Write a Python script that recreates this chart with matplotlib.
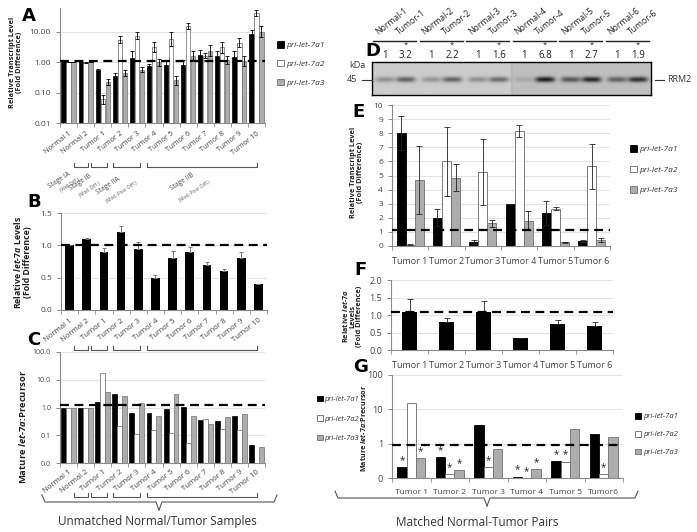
import numpy as np
import matplotlib.pyplot as plt
from matplotlib.patches import Patch
from matplotlib.lines import Line2D
from matplotlib.transforms import Affine2D, blended_transform_factory
from matplotlib.ticker import NullLocator, FixedLocator

W, H = 697, 532

# ---------------- data ----------------
series = ['pri-let-7a1', 'pri-let-7a2', 'pri-let-7a3']
unmatched = ['Normal 1', 'Normal 2', 'Tumor 1', 'Tumor 2', 'Tumor 3', 'Tumor 4',
             'Tumor 5', 'Tumor 6', 'Tumor 7', 'Tumor 8', 'Tumor 9', 'Tumor 10']

# A: relative transcript level (log), error given as fold factor
a_7a1 = [1.0, 1.0, 0.56, 0.35, 1.4, 0.72, 0.82, 0.82, 1.78, 1.65, 1.5, 8.4]
a_7a2 = [1.0, 0.97, 0.06, 5.5, 7.4, 3.1, 5.8, 15.3, 1.65, 3.1, 4.4, 42.5]
a_7a3 = [1.0, 1.0, 0.22, 0.44, 0.56, 1.0, 0.25, 1.65, 2.4, 1.2, 1.1, 10.0]
a_f1 = [1.02, 1.02, 1.1, 1.3, 1.7, 1.2, 1.4, 1.4, 1.45, 1.45, 1.5, 1.4]
a_f2 = [1.02, 1.02, 1.4, 1.3, 1.3, 1.45, 1.7, 1.25, 1.25, 1.5, 1.45, 1.25]
a_f3 = [1.02, 1.02, 1.25, 1.25, 1.2, 1.3, 1.4, 1.45, 1.5, 1.35, 1.45, 1.5]

# B: relative let-7a levels
b_vals = [1.0, 1.1, 0.9, 1.2, 0.95, 0.5, 0.8, 0.9, 0.7, 0.6, 0.8, 0.4]
b_err = [0.0, 0.02, 0.06, 0.1, 0.1, 0.04, 0.11, 0.08, 0.05, 0.04, 0.1, 0.0]

# C: mature let-7a : precursor (log)
c_7a1 = [1.0, 1.0, 1.55, 3.1, 0.62, 0.66, 0.92, 1.05, 0.35, 0.34, 0.49, 0.044]
c_7a2 = [1.0, 1.0, 17.0, 0.21, 0.115, 0.15, 0.125, 0.052, 0.37, 0.17, 0.16, 0.01]
c_7a3 = [0.97, 0.95, 3.7, 2.6, 1.5, 0.49, 3.0, 0.49, 0.26, 0.47, 0.6, 0.038]

stage_names = ['Stage IA', 'Stage IB', 'Stage IIA', 'Stage IIB']
stage_diff = ['(Well Diff.)', '(Mod. Diff.)', '(Mod.-Poor Diff.)', '(Mod.-Poor Diff.)']

# D: western blot
blot_lanes = ['Normal-1', 'Tumor-1', 'Normal-2', 'Tumor-2', 'Normal-3', 'Tumor-3',
              'Normal-4', 'Tumor-4', 'Normal-5', 'Tumor-5', 'Normal-6', 'Tumor-6']
blot_ratio = ['1', '3.2', '1', '2.2', '1', '1.6', '1', '6.8', '1', '2.7', '1', '1.9']
band_density = [0.3, 0.55, 0.28, 0.55, 0.32, 0.5, 0.12, 0.85, 0.55, 0.8, 0.5, 0.75]

# E: matched pairs transcript level
pairs = ['Tumor 1', 'Tumor 2', 'Tumor 3', 'Tumor 4', 'Tumor 5', 'Tumor 6']
e_7a1 = [8.0, 2.0, 0.3, 3.0, 2.35, 0.35]
e_7a1_err = [1.2, 0.6, 0.15, 0.0, 0.85, 0.1]
e_7a2 = [0.1, 6.0, 5.25, 8.15, 2.65, 5.65]
e_7a2_err = [0.03, 2.45, 2.35, 0.4, 0.1, 1.6]
e_7a3 = [4.7, 4.85, 1.6, 1.8, 0.25, 0.45]
e_7a3_err = [2.4, 0.95, 0.25, 0.65, 0.03, 0.15]

# F: matched pairs let-7a
f_vals = [1.1, 0.8, 1.1, 0.33, 0.75, 0.7]
f_err = [0.35, 0.12, 0.3, 0.02, 0.12, 0.1]

# G: matched pairs mature:precursor (log), * = significant
g_labels = ['Tumor 1', 'Tumor 2', 'Tumor 3', 'Tumor 4', 'Tumor 5', 'Tumor6']
g_7a1 = [0.21, 0.41, 3.6, 0.11, 0.31, 1.9]
g_7a2 = [14.9, 0.13, 0.21, 0.1, 0.3, 0.13]
g_7a3 = [0.38, 0.17, 0.69, 0.18, 2.6, 1.55]
g_sig1 = [1, 1, 0, 1, 1, 0]
g_sig2 = [0, 1, 1, 1, 1, 1]
g_sig3 = [1, 1, 0, 1, 0, 0]

# ---------------- style ----------------
plt.rcParams['font.family'] = ['Open Sans', 'DejaVu Sans']
plt.rcParams['mathtext.fontset'] = 'custom'
plt.rcParams['mathtext.it'] = 'Open Sans:italic:bold'
plt.rcParams['mathtext.rm'] = 'Open Sans:bold'
plt.rcParams['mathtext.bf'] = 'Open Sans:bold'

fills = ['black', 'white', '#adadad']
edges = ['black', '#666666', '#707070']
tcol = '#444444'

fig = plt.figure(figsize=(W / 100, H / 100), dpi=100)
pix = Affine2D().scale(1 / W, -1 / H).translate(0, 1) + fig.transFigure


def add_ax(l, t, r, b):
    return fig.add_axes([l / W, 1 - b / H, (r - l) / W, (b - t) / H])


def txt(x, y, s, **kw):
    return fig.text(x, y, s, transform=pix, **kw)


def pline(xs, ys, **kw):
    kw.setdefault('color', '#555555')
    kw.setdefault('lw', 0.8)
    fig.add_artist(Line2D(xs, ys, transform=pix, **kw))


def style(ax, n, labels, rot=0, fs=6, pad=2):
    for s in ['top', 'right']:
        ax.spines[s].set_visible(False)
    for s in ['left', 'bottom']:
        ax.spines[s].set_color('#8a8a8a')
        ax.spines[s].set_linewidth(0.8)
    ax.set_xlim(-0.5, n - 0.5)
    ax.set_xticks(np.arange(n))
    if rot:
        ax.set_xticklabels(labels, rotation=rot, ha='right', rotation_mode='anchor', fontsize=fs, color=tcol)
    else:
        ax.set_xticklabels(labels, fontsize=fs, color=tcol)
    ax.tick_params(axis='x', length=0, pad=pad)
    ax.xaxis.set_minor_locator(FixedLocator(np.arange(-0.5, n, 1)))
    ax.tick_params(axis='x', which='minor', length=3, color='#8a8a8a')
    ax.tick_params(axis='y', labelsize=6, colors=tcol, length=3, color='#8a8a8a', width=0.7)
    ax.grid(axis='y', color='#dddddd', lw=0.6)
    ax.set_axisbelow(True)


def dashed(ax, y):
    ax.axhline(y, color='black', lw=1.6, ls=(0, (4, 2.5)), zorder=5)


def legend(ax, x, y, fs=6, sp=1.3):
    hs = [Patch(facecolor=f, edgecolor=e, lw=0.6) for f, e in zip(fills, edges)]
    ax.legend(hs, series, loc='upper left', bbox_to_anchor=(x / W, 1 - y / H),
              bbox_transform=fig.transFigure, frameon=False,
              prop={'style': 'italic', 'size': fs}, handlelength=0.8, handleheight=0.8,
              handletextpad=0.25, labelspacing=sp, borderpad=0, labelcolor='#333333')


# ---------------- A ----------------
axA = add_ax(60, 8, 265, 123)
x = np.arange(len(unmatched))
for k, (v, f) in enumerate(zip([a_7a1, a_7a2, a_7a3], [a_f1, a_f2, a_f3])):
    v = np.array(v)
    f = np.array(f)
    axA.bar(x + (k - 1) * 0.29, v, 0.25, color=fills[k], edgecolor=edges[k], lw=0.5)
    axA.errorbar(x + (k - 1) * 0.29, v, yerr=[v - v / f, v * f - v], fmt='none',
                 ecolor='black', elinewidth=0.6, capsize=1.6, capthick=0.6)
axA.set_yscale('log')
axA.set_ylim(0.01, 60)
axA.set_yticks([0.01, 0.1, 1, 10])
axA.set_yticklabels(['0.01', '0.10', '1.00', '10.00'])
axA.yaxis.set_minor_locator(NullLocator())
style(axA, 12, unmatched, rot=38, fs=5.4, pad=5)
dashed(axA, 1.05)
legend(axA, 273, 37)

# stage brackets below A, B and C
brackets = [(74, 88), (91, 107), (113, 140), (147, 257)]
for yb in [167, 350, 497]:
    for x0, x1 in brackets:
        pline([x0, x0, x1, x1], [yb - 4, yb, yb, yb - 4])
stage_pos = [(60, 180), (81, 182), (108, 186), (182, 182)]
diff_pos = [(70, 185), (90, 189), (122, 192), (195, 191)]
for s, d, p, q in zip(stage_names, stage_diff, stage_pos, diff_pos):
    txt(p[0], p[1], s, fontsize=4.8, color='#4a4a4a', rotation=33, ha='center', va='center')
    txt(q[0], q[1], d, fontsize=3.3, color='#5a5a5a', rotation=33, ha='center', va='center')

# ---------------- B ----------------
axB = add_ax(61, 213, 267, 310)
xb = np.arange(len(unmatched))
axB.bar(xb, b_vals, 0.5, color='black')
axB.errorbar(xb, b_vals, yerr=[np.zeros(len(b_err)), b_err], fmt='none', ecolor='#777777',
             elinewidth=0.7, capsize=1.6, capthick=0.7)
axB.set_ylim(0, 1.5)
axB.set_yticks([0, 0.5, 1.0, 1.5])
axB.set_yticklabels(['0.0', '0.5', '1.0', '1.5'])
style(axB, 12, unmatched, rot=38, fs=5.6, pad=5)
dashed(axB, 1.0)

# ---------------- C ----------------
axC = add_ax(60, 352, 265, 463)
for k, v in enumerate([c_7a1, c_7a2, c_7a3]):
    axC.bar(x + (k - 1) * 0.29, v, 0.29, color=fills[k], edgecolor=edges[k], lw=0.5)
axC.set_yscale('log')
axC.set_ylim(0.01, 100)
axC.set_yticks([0.01, 0.1, 1, 10, 100])
axC.set_yticklabels(['0.0', '0.1', '1.0', '10.0', '100.0'])
axC.yaxis.set_minor_locator(NullLocator())
style(axC, 12, unmatched, rot=38, fs=5.6, pad=4)
axC.tick_params(axis='y', labelsize=5)
dashed(axC, 1.25)
legend(axC, 313, 392, fs=5.4, sp=1.6)

# ---------------- D (blot) ----------------
axD = add_ax(372, 62, 651, 95)
lane_x = [i + 0.5 + 0.05 * (-1) ** i for i in range(len(blot_lanes))]
gx, gy = np.meshgrid(np.linspace(0, 12, 600), np.linspace(0, 1, 80))
img = np.where(gx < 6, 0.80, 0.75)
img = img - 0.05 * np.exp(-((gx - 6.0) / 0.05) ** 2)
for lx, d in zip(lane_x, band_density):
    img = img - d * 0.75 * np.exp(-((gy - 0.47) / 0.085) ** 2) * np.exp(-((gx - lx) / 0.42) ** 4)
axD.imshow(img, cmap='gray', vmin=0, vmax=1, extent=(0, 12, 0, 1), origin='lower', aspect='auto')
axD.set_xticks([])
axD.set_yticks([])
for s in axD.spines.values():
    s.set_linewidth(1.0)
dtr = blended_transform_factory(axD.transData, pix)
for i, (lab, r) in enumerate(zip(blot_lanes, blot_ratio)):
    fig.text(lane_x[i] - 0.25, 37, lab, transform=dtr, fontsize=6.2, color='#222222', rotation=38,
             ha='left', va='bottom', rotation_mode='anchor')
    fig.text(lane_x[i], 55, r, transform=dtr, fontsize=7, color='#222222', ha='center', va='center')
    if i % 2:
        fig.text(lane_x[i], 45, '*', transform=dtr, fontsize=5.5, color='#222222', ha='center', va='center')
for k in range(6):
    fig.add_artist(Line2D([2 * k + 0.05, 2 * k + 1.9], [41, 41], transform=dtr, color='#222222', lw=1.0))
txt(357, 66, 'kDa', fontsize=6.5, color='#333333', ha='center', va='center')
txt(352, 80, '45', fontsize=6.5, color='#333333', ha='center', va='center')
pline([362, 372], [80, 80], color='#333333')
pline([655, 664], [80, 80], color='#333333')
txt(667, 80, 'RRM2', fontsize=6.5, color='#333333', ha='left', va='center')

# ---------------- E ----------------
axE = add_ax(392, 105, 610, 246)
xp = np.arange(len(pairs))
for k, (v, e) in enumerate(zip([e_7a1, e_7a2, e_7a3], [e_7a1_err, e_7a2_err, e_7a3_err])):
    axE.bar(xp + (k - 1) * 0.25, v, 0.25, color=fills[k], edgecolor=edges[k], lw=0.6)
    axE.errorbar(xp + (k - 1) * 0.25, v, yerr=e, fmt='none', ecolor='#222222',
                 elinewidth=0.6, capsize=2, capthick=0.6)
axE.set_ylim(0, 10)
axE.set_yticks(range(11))
style(axE, 6, pairs, fs=6.5, pad=8)
dashed(axE, 1.15)
legend(axE, 626, 141, fs=6, sp=1.5)

# ---------------- F ----------------
axF = add_ax(391, 280, 613, 350)
axF.bar(xp, f_vals, 0.42, color='black')
axF.errorbar(xp, f_vals, yerr=[np.zeros(len(f_err)), f_err], fmt='none', ecolor='#222222',
             elinewidth=0.6, capsize=2, capthick=0.6)
axF.set_ylim(0, 2)
axF.set_yticks([0, 0.5, 1.0, 1.5, 2.0])
axF.set_yticklabels(['0.0', '0.5', '1.0', '1.5', '2.0'])
style(axF, 6, pairs, fs=6.5, pad=8)
axF.tick_params(axis='y', labelsize=6.5)
dashed(axF, 1.1)

# ---------------- G ----------------
axG = add_ax(392, 375, 623, 478)
for k, (v, sig) in enumerate(zip([g_7a1, g_7a2, g_7a3], [g_sig1, g_sig2, g_sig3])):
    axG.bar(xp + (k - 1) * 0.24, v, 0.24, color=fills[k], edgecolor=edges[k], lw=0.6)
    for i in range(len(v)):
        if sig[i]:
            axG.text(xp[i] + (k - 1) * 0.24, v[i] * 1.08, '*', fontsize=7, ha='center', va='bottom',
                     color='#222222')
axG.set_yscale('log')
axG.set_ylim(0.1, 100)
axG.set_yticks([0.1, 1, 10, 100])
axG.set_yticklabels(['0', '1', '10', '100'])
axG.yaxis.set_minor_locator(NullLocator())
style(axG, 6, g_labels, fs=6, pad=8)
axG.tick_params(axis='y', labelsize=6.5)
dashed(axG, 0.93)
legend(axG, 631, 409, fs=5.5, sp=1.35)

# ---------------- labels ----------------
for L, (lx, ly) in zip('ABCDEFG', [(22, 21), (27, 207), (27, 345), (365, 56), (352, 117), (354, 275), (353, 372)]):
    txt(lx, ly, L, fontsize=13, fontweight='bold', family='DejaVu Sans', va='baseline')

txt(16, 62, 'Relative Transcript Level\n(Fold Difference)', fontsize=5.3, fontweight='bold',
    rotation=90, ha='center', va='center', color='#222222', linespacing=1.1)
txt(22, 262, r'Relative $let$-$7a$ Levels' + '\n(Fold Difference)', fontsize=6.3, fontweight='bold',
    rotation=90, ha='center', va='center', color='#222222', linespacing=1.1)
txt(23, 427, r'Mature $let$-$7a$:Precursor', fontsize=6.8, fontweight='bold',
    rotation=90, ha='center', va='center', color='#222222')
txt(357, 172, 'Relative Transcript Level\n(Fold Difference)', fontsize=5.3, fontweight='bold',
    rotation=90, ha='center', va='center', color='#222222', linespacing=1.1)
txt(352, 316, r'Relative $let$-$7a$' + '\nLevels\n(Fold Difference)', fontsize=5.3, fontweight='bold',
    rotation=90, ha='center', va='center', color='#222222', linespacing=1.0)
txt(364, 428, r'Mature $let$-$7a$:Precursor', fontsize=5.2, fontweight='bold',
    rotation=90, ha='center', va='center', color='#222222')

# braces and group captions
for x0, x1, xc, yb in [(42, 277, 159, 502), (335, 638, 487, 498)]:
    pline([x0, x0 + 3, xc - 3, xc], [yb - 7, yb, yb, yb + 8])
    pline([xc, xc + 3, x1 - 3, x1], [yb + 8, yb, yb, yb - 7])
txt(157, 522, 'Unmatched Normal/Tumor Samples', fontsize=8.5, color='#333333', ha='center', va='center')
txt(477, 523, 'Matched Normal-Tumor Pairs', fontsize=8.5, color='#333333', ha='center', va='center')

fig.savefig('out.png', dpi=100)
